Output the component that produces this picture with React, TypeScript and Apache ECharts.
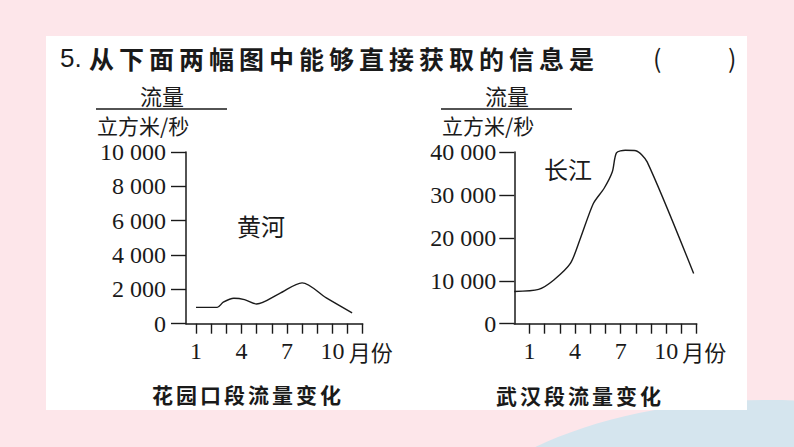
import React, { useEffect, useRef } from "react";
import * as echarts from "echarts";

// 黄河 花园口段
const huangheMonths = [1, 2.4, 2.8, 3.5, 4.2, 5.0, 6.5, 8.0, 9.6, 11.3];
const huangheFlow = [950, 950, 1250, 1480, 1400, 1150, 1750, 2380, 1500, 630];
// 长江 武汉段
const changjiangMonths = [0, 1.6, 2.6, 3.7, 4.35, 5.2, 5.9, 6.45, 6.72, 7.3, 8.0, 8.74, 11.8];
const changjiangFlow = [7500, 8000, 10200, 14100, 19900, 28000, 31500, 35400, 39800, 40400, 40300, 37700, 11700];

const monthTicks = [1, 2, 3, 4, 5, 6, 7, 8, 9, 10, 11, 12];
const monthLabels = [1, 4, 7, 10];

const titleNo = "5.";
const titleText = "从下面两幅图中能够直接获取的信息是";
const caption1 = "花园口段流量变化";
const caption2 = "武汉段流量变化";
const river1 = "黄河";
const river2 = "长江";
const yNameTop = "流量";
const yNameBottom = "立方米/秒";
const xName = "月份";

const SERIF = '"Times New Roman", "Liberation Serif", "DejaVu Serif", serif';
const CJK = "Noto Sans CJK SC";
const INK = "#1a1a1a";

const fmtThousands = (v: number) => {
  if (v < 1000) return String(v);
  const k = Math.floor(v / 1000);
  const r = String(v % 1000).padStart(3, "0");
  return `${k} ${r}`;
};

function xAxisCfg(gridIndex: number, min: number, nameGap: number) {
  return {
    gridIndex,
    type: "value",
    min,
    max: 12,
    axisLine: { show: true, onZero: false, lineStyle: { color: INK, width: 1.5 } },
    axisTick: { show: true, inside: false, length: 10, customValues: monthTicks, lineStyle: { color: INK, width: 1.4 } },
    axisLabel: { show: true, customValues: monthLabels, margin: 15, fontFamily: SERIF, fontSize: 24, color: INK },
    splitLine: { show: false },
    name: xName,
    nameLocation: "end",
    nameGap,
    nameTextStyle: { fontFamily: CJK, fontSize: 22, color: INK, verticalAlign: "top", padding: [16, 0, 0, 0] },
  };
}

function yAxisCfg(gridIndex: number, max: number, interval: number, margin: number) {
  return {
    gridIndex,
    type: "value",
    min: 0,
    max,
    interval,
    axisLine: { show: true, lineStyle: { color: INK, width: 1.5 } },
    axisTick: { show: true, inside: false, length: 15, lineStyle: { color: INK, width: 1.4 } },
    axisLabel: { show: true, margin, fontFamily: SERIF, fontSize: 24, lineHeight: 20, color: INK, formatter: fmtThousands },
    splitLine: { show: false },
  };
}

function txt(text: string, x: number, y: number, size: number, family: string, align = "left", weight = "normal") {
  return {
    type: "text",
    x,
    y,
    silent: true,
    style: {
      text,
      fill: INK,
      fontSize: size,
      fontFamily: family,
      fontWeight: weight,
      align,
      verticalAlign: "middle",
      textAlign: align,
      textVerticalAlign: "middle",
    },
  };
}

export default function App() {
  const ref = useRef<HTMLDivElement>(null);
  useEffect(() => {
    if (!ref.current) return;
    const chart = echarts.init(ref.current, null, { renderer: "svg" });
    const option: any = {
      animation: false,
      graphic: [
        { type: "rect", z: -100, silent: true, shape: { x: 0, y: 0, width: 794, height: 447 }, style: { fill: "#fde6ea" } },
        { type: "ellipse", z: -99, silent: true, shape: { cx: 770, cy: 570, rx: 340, ry: 170 }, style: { fill: "#d5e5ee" } },
        { type: "rect", z: -98, silent: true, shape: { x: 46, y: 36, width: 701, height: 374 }, style: { fill: "#ffffff" } },
        txt(titleNo, 60, 58, 26, "Liberation Sans"),
        txt(titleText, 89, 58, 25, CJK, "left", "bold"),
        txt("(", 653, 57, 25, CJK),
        txt(")", 728, 57, 25, CJK),
        // chart 1 axis name
        txt(yNameTop, 162, 95, 22, CJK, "center"),
        { type: "line", silent: true, shape: { x1: 96, y1: 109, x2: 227, y2: 109 }, style: { stroke: INK, lineWidth: 1.3 } },
        txt(yNameBottom, 97, 125, 21, CJK),
        txt(river1, 261, 225, 24, CJK, "center"),
        txt(caption1, 152, 394, 21, CJK, "left", "bold"),
        // chart 2 axis name
        txt(yNameTop, 507, 95, 22, CJK, "center"),
        { type: "line", silent: true, shape: { x1: 441, y1: 109, x2: 572, y2: 109 }, style: { stroke: INK, lineWidth: 1.3 } },
        txt(yNameBottom, 442, 125, 21, CJK),
        txt(river2, 568, 168, 24, CJK, "center"),
        txt(caption2, 496, 395, 21, CJK, "left", "bold"),
      ],
      grid: [
        { left: 186, top: 152, width: 176.7, height: 171.7 },
        { left: 514.3, top: 152, width: 182.4, height: 171.7 },
      ],
      xAxis: [xAxisCfg(0, 0.34, -14), xAxisCfg(1, 0, -17)],
      yAxis: [yAxisCfg(0, 10000, 2000, 20), yAxisCfg(1, 40000, 10000, 18)],
      series: [
        {
          type: "line",
          xAxisIndex: 0,
          yAxisIndex: 0,
          data: huangheMonths.map((m, i) => [m, huangheFlow[i]]),
          smooth: 0.3,
          clip: false,
          showSymbol: false,
          lineStyle: { color: INK, width: 1.4 },
        },
        {
          type: "line",
          xAxisIndex: 1,
          yAxisIndex: 1,
          data: changjiangMonths.map((m, i) => [m, changjiangFlow[i]]),
          smooth: 0.25,
          clip: false,
          showSymbol: false,
          lineStyle: { color: INK, width: 1.4 },
        },
      ],
    };
    chart.setOption(option);
    const spacing: Record<string, string> = { [titleText]: "5px", [caption1]: "3px", [caption2]: "3px" };
    ref.current.querySelectorAll("text").forEach((t) => {
      const s = spacing[(t.textContent || "").trim()];
      if (s) t.setAttribute("letter-spacing", s);
    });
    return () => chart.dispose();
  }, []);
  return <div ref={ref} style={{ position: "absolute", left: 0, top: 0, width: 794, height: 447 }} />;
}
